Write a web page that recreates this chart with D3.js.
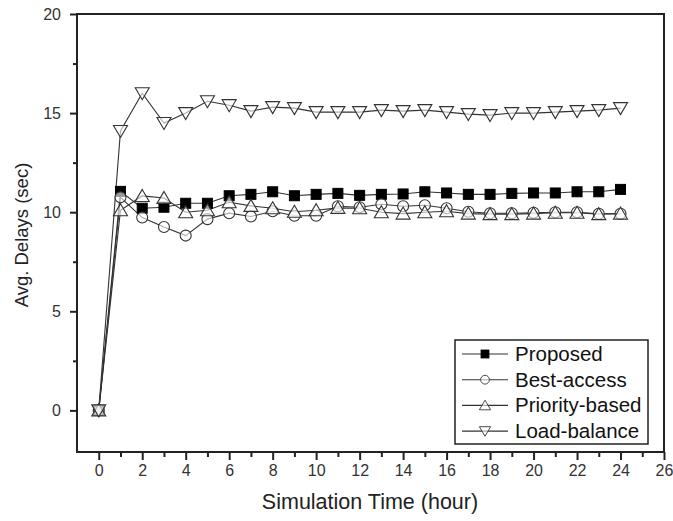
<!DOCTYPE html>
<html><head><meta charset="utf-8">
<script src="https://cdn.jsdelivr.net/npm/d3@7"></script>
<style>
html,body{margin:0;padding:0;background:#fff;}
svg{display:block;}
text{font-family:"Liberation Sans",Arial,sans-serif;}
</style></head>
<body>
<svg id="chart" width="673" height="521"></svg>
<script>
const hours = [0,1,2,3,4,5,6,7,8,9,10,11,12,13,14,15,16,17,18,19,20,21,22,23,24];
const proposed = [0,11.05,10.2,10.25,10.45,10.45,10.83,10.9,11.03,10.83,10.9,10.95,10.85,10.9,10.92,11.03,10.97,10.9,10.9,10.95,10.97,10.97,11.03,11.03,11.15];
const bestAccess = [0,10.75,9.73,9.25,8.82,9.65,9.95,9.78,10.05,9.82,9.82,10.3,10.25,10.4,10.3,10.35,10.2,10.02,9.95,9.95,9.97,10.0,10.0,9.92,9.92];
const priorityBased = [0,10.1,10.82,10.72,10.0,10.1,10.5,10.32,10.2,10.02,10.1,10.22,10.2,10.0,9.93,10.0,10.05,9.93,9.9,9.9,9.93,9.97,9.97,9.9,9.93];
const loadBalance = [0,14.1,16.0,14.5,15.0,15.6,15.4,15.1,15.3,15.25,15.05,15.05,15.05,15.15,15.1,15.15,15.05,14.95,14.9,15.0,15.0,15.05,15.1,15.15,15.25];
const seriesNames = ["Proposed","Best-access","Priority-based","Load-balance"];
const xTicks = [0,2,4,6,8,10,12,14,16,18,20,22,24,26];
const xMinorTicks = [1,3,5,7,9,11,13,15,17,19,21,23,25];
const yTicks = [0,5,10,15,20];
const yMinorTicks = [2.5,7.5,12.5,17.5];
const xTitle = "Simulation Time (hour)";
const yTitle = "Avg. Delays (sec)";

const svg = d3.select("#chart");
const L = 77, R = 664, T = 14, B = 452;
const x = d3.scaleLinear().domain([-1,26]).range([L,R]);
const y = d3.scaleLinear().domain([-2.1,20]).range([B,T]);
const ink = "#222";

// frame
svg.append("rect").attr("x",L).attr("y",T).attr("width",R-L).attr("height",B-T)
  .attr("fill","none").attr("stroke",ink).attr("stroke-width",2);

// axes
const xAxis = svg.append("g").attr("transform",`translate(0,${B})`)
  .call(d3.axisBottom(x).tickValues(xTicks).tickSize(8).tickPadding(5).tickFormat(d3.format("d")));
const xMinor = svg.append("g").attr("transform",`translate(0,${B})`)
  .call(d3.axisBottom(x).tickValues(xMinorTicks).tickSize(5).tickFormat(""));
const yAxis = svg.append("g").attr("transform",`translate(${L},0)`)
  .call(d3.axisLeft(y).tickValues(yTicks).tickSize(7).tickPadding(9).tickFormat(d3.format("d")));
const yMinor = svg.append("g").attr("transform",`translate(${L},0)`)
  .call(d3.axisLeft(y).tickValues(yMinorTicks).tickSize(4).tickFormat(""));
[xAxis,xMinor,yAxis,yMinor].forEach(g=>{
  g.select(".domain").remove();
  g.selectAll("line").attr("stroke",ink).attr("stroke-width",2);
  g.selectAll("text").attr("font-size",16).attr("fill","#333")
    .style("font-family","'Liberation Sans',Arial,sans-serif");
});

svg.append("text").attr("x",370).attr("y",509).attr("text-anchor","middle")
  .attr("font-size",21.5).attr("fill","#222").text(xTitle);
svg.append("text").attr("transform",`translate(28,235) rotate(-90)`).attr("text-anchor","middle")
  .attr("font-size",18.5).attr("fill","#222").text(yTitle);

// markers
function drawMarker(g, type, cx, cy){
  if(type==="square"){
    g.append("rect").attr("x",cx-5).attr("y",cy-5).attr("width",10).attr("height",10)
      .attr("fill","#000").attr("stroke","#000").attr("stroke-width",1);
  } else if(type==="circle"){
    g.append("circle").attr("cx",cx).attr("cy",cy).attr("r",5.5)
      .attr("fill","#fff").attr("fill-opacity",0.6).attr("stroke","#333").attr("stroke-width",1.1);
  } else if(type==="up"){
    g.append("path").attr("d",`M${cx},${cy-6.5}L${cx+7},${cy+5.5}L${cx-7},${cy+5.5}Z`)
      .attr("fill","#fff").attr("fill-opacity",0.6).attr("stroke","#333").attr("stroke-width",1.1);
  } else {
    g.append("path").attr("d",`M${cx},${cy+6.5}L${cx+7},${cy-5.5}L${cx-7},${cy-5.5}Z`)
      .attr("fill","#fff").attr("fill-opacity",0.6).attr("stroke","#333").attr("stroke-width",1.1);
  }
}

const series = [
  {name:seriesNames[0], values:proposed, marker:"square"},
  {name:seriesNames[1], values:bestAccess, marker:"circle"},
  {name:seriesNames[2], values:priorityBased, marker:"up"},
  {name:seriesNames[3], values:loadBalance, marker:"down"}
];
const line = d3.line().x((d,i)=>x(hours[i])).y(d=>y(d));
const plot = svg.append("g");
series.forEach(s=>{
  plot.append("path").datum(s.values).attr("d",line)
    .attr("fill","none").attr("stroke","#333").attr("stroke-width",1.1);
});
series.forEach(s=>{
  const g = plot.append("g");
  s.values.forEach((v,i)=>drawMarker(g,s.marker,x(hours[i]),y(v)));
});

// legend
const lg = svg.append("g");
lg.append("rect").attr("x",455).attr("y",340).attr("width",193).attr("height",104)
  .attr("fill","#fff").attr("stroke",ink).attr("stroke-width",1.5);
series.forEach((s,i)=>{
  const cy = 354 + i*25.7;
  lg.append("line").attr("x1",462).attr("x2",508).attr("y1",cy).attr("y2",cy)
    .attr("stroke","#333").attr("stroke-width",1.1);
  const mg = lg.append("g").attr("transform","translate(485,"+cy+") scale(0.8) translate(-485,"+(-cy)+")");
  drawMarker(mg,s.marker,485,cy);
  lg.append("text").attr("x",515).attr("y",cy+7).attr("font-size",20.5).attr("fill","#111").text(s.name);
});
</script>
</body></html>
